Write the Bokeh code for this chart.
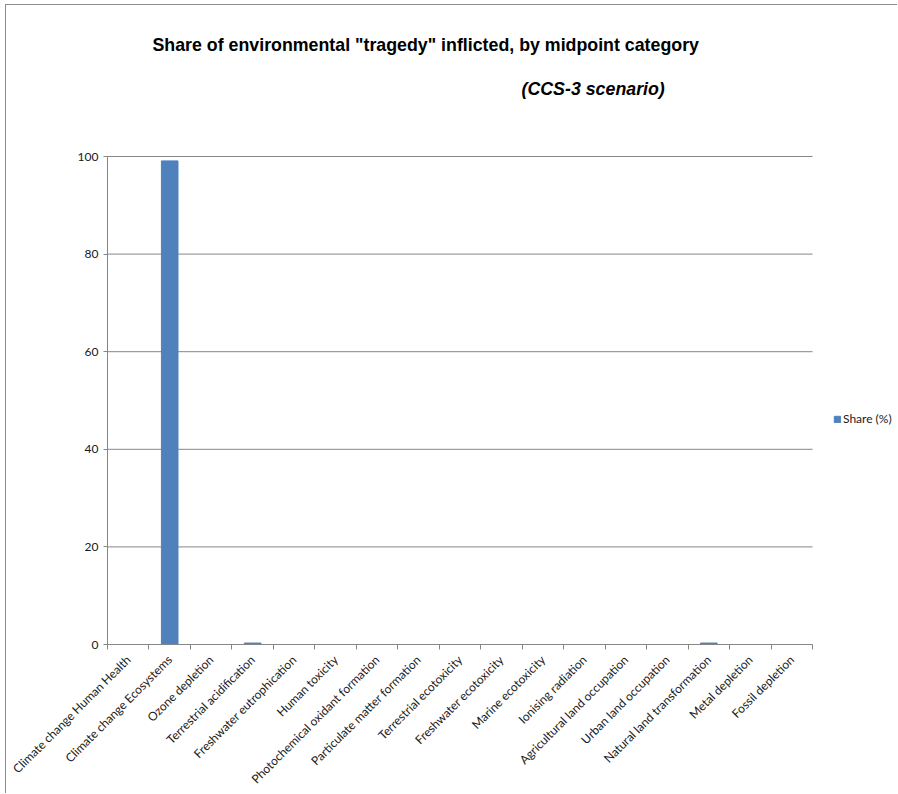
import math
from bokeh.plotting import figure
from bokeh.models import (Range1d, LinearAxis, FixedTicker, Label, Legend, LegendItem,
                          ColumnDataSource)
from bokeh.embed import file_html
from bokeh.resources import INLINE

categories = [
    "Climate change Human Health", "Climate change Ecosystems", "Ozone depletion",
    "Terrestrial acidification", "Freshwater eutrophication", "Human toxicity",
    "Photochemical oxidant formation", "Particulate matter formation",
    "Terrestrial ecotoxicity", "Freshwater ecotoxicity", "Marine ecotoxicity",
    "Ionising radiation", "Agricultural land occupation", "Urban land occupation",
    "Natural land transformation", "Metal depletion", "Fossil depletion",
]
shares = [0.0, 99.1, 0.0, 0.3, 0.0, 0.0, 0.0, 0.0, 0.0, 0.0, 0.0, 0.0, 0.0, 0.0, 0.3, 0.0, 0.0]
y_ticks = [0, 20, 40, 60, 80, 100]
series_name = "Share (%)"
title_text = 'Share of environmental "tragedy" inflicted, by midpoint category'
subtitle_text = "(CCS-3 scenario)"

GRAY = "#868686"
BLUE = "#4F81BD"

n = len(categories)
y_max = max(y_ticks)
centers = [i + 0.5 for i in range(n)]
src = ColumnDataSource(dict(x=centers, cat=categories, share=shares))
grid_src = ColumnDataSource(dict(x0=[0] * len(y_ticks), x1=[n] * len(y_ticks),
                                 y=y_ticks))

# The frame spans the whole canvas right of / above the axes so that the
# title, subtitle and legend (drawn inside the frame) are not clipped.
# The category area occupies 705 of the 791 px frame width, and the 0..100
# value span occupies 488 of the 639 px frame height.
x_end = n * 791 / 705
y_end = y_max * 639 / 488

p = figure(width=892, height=789, x_range=Range1d(0, x_end), y_range=Range1d(0, y_end),
           output_backend="svg", toolbar_location=None, x_axis_location=None,
           title_location=None,
           min_border_left=101, min_border_right=0, min_border_top=0, min_border_bottom=150)
p.margin = (4, 0, 0, 5)
p.styles = {"border-left": "1px solid #8c8c8c", "border-top": "1px solid #8c8c8c"}
p.outline_line_color = None
p.background_fill_color = "white"
p.border_fill_color = "white"

# y axis
p.yaxis.ticker = FixedTicker(ticks=y_ticks)
p.yaxis.bounds = (0, y_max)
p.yaxis.axis_line_color = GRAY
p.yaxis.major_tick_line_color = GRAY
p.yaxis.major_tick_out = 4
p.yaxis.major_tick_in = 0
p.yaxis.minor_tick_line_color = None
p.yaxis.major_label_standoff = 5
p.yaxis.major_label_text_font = "Lato"
p.yaxis.major_label_text_font_size = "12px"
p.yaxis.major_label_text_color = "#1a1a1a"
p.ygrid.visible = False
p.xgrid.visible = False

# horizontal gridlines, limited to the category area
p.segment(x0="x0", x1="x1", y0="y", y1="y", source=grid_src, line_color=GRAY, line_width=1)

# separator ticks axis (category boundaries)
sep_axis = LinearAxis(ticker=FixedTicker(ticks=list(range(n + 1))), bounds=(0, n),
                      major_tick_out=5, major_tick_in=0, minor_tick_line_color=None,
                      major_label_text_font_size="0px", major_label_standoff=0,
                      major_label_overrides={i: "" for i in range(n + 1)},
                      axis_line_color=GRAY, major_tick_line_color=GRAY)
p.add_layout(sep_axis, "below")

# category label axis
cat_axis = LinearAxis(ticker=FixedTicker(ticks=centers),
                      major_label_overrides={c: name for c, name in zip(centers, categories)},
                      major_label_orientation=math.pi / 4, axis_line_color=None,
                      major_tick_line_color=None, minor_tick_line_color=None,
                      major_tick_out=0, major_tick_in=0,
                      major_label_standoff=8, major_label_text_font="Lato",
                      major_label_text_font_size="12px", major_label_text_color="#1a1a1a")
p.add_layout(cat_axis, "below")

r = p.vbar(x="x", top="share", width=0.4, source=src, fill_color=BLUE, line_color=BLUE)

legend = Legend(items=[LegendItem(label=series_name, renderers=[r])], location=(726, 218),
                glyph_width=8, glyph_height=8, label_standoff=2, padding=0, margin=0, spacing=0,
                label_height=12, label_text_font="Lato", label_text_font_size="12px",
                label_text_color="#1a1a1a", border_line_color=None, background_fill_alpha=0)
p.add_layout(legend)

p.add_layout(Label(x=0, y=y_max, x_offset=45, y_offset=112, text=title_text,
                   text_font="Liberation Sans", text_font_style="bold", text_font_size="17.8px",
                   text_baseline="middle", text_color="black"))
p.add_layout(Label(x=0, y=y_max, x_offset=414, y_offset=68, text=subtitle_text,
                   text_font="Liberation Sans", text_font_style="bold italic",
                   text_font_size="17.8px", text_baseline="middle", text_color="black"))

open("out.html", "w").write(file_html(p, INLINE))
